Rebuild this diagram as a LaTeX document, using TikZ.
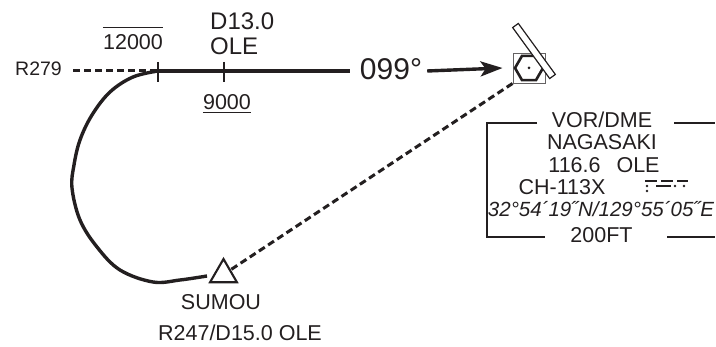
\documentclass[tikz,border=0pt]{standalone}
\usepackage{fontspec}
\setmainfont{Liberation Sans}
\usetikzlibrary{shapes.geometric,arrows.meta}
\definecolor{ink}{RGB}{35,31,32}
\begin{document}
\begin{tikzpicture}[x=1pt,y=-1pt,
  every node/.style={text=ink},
  lbl/.style={inner sep=0pt, anchor=base, font=\fontsize{21.5}{24}\selectfont},
  track/.style={draw=ink, line width=3.4pt},
  thinline/.style={draw=ink, line width=1.1pt},
  dashtrack/.style={draw=ink, line width=3pt, dash pattern=on 7pt off 4pt},
  morse/.style={draw=ink, line width=2.4pt},
]
\useasboundingbox (0,0) rectangle (716,347);

% inbound track and labels
\node[lbl, font=\fontsize{19.5}{21}\selectfont] (r279) at (38.5,76) {R279};
\coordinate (t1) at (158,71);
\coordinate (t2) at (224,71);
\coordinate (lend) at (350,71);
\draw[dashtrack] ([xshift=11pt]r279.east |- t1) -- (t1);
\draw[track] (t1) -- (lend);
\draw[thinline] ([yshift=9pt]t1) -- ([yshift=-11pt]t1);
\draw[thinline] ([yshift=9pt]t2) -- ([yshift=-11pt]t2);

\node[lbl] (alt1) at (133,50) {12000};
\draw[thinline] ([yshift=7pt]alt1.north west) -- ([yshift=7pt]alt1.north east);
\node[lbl, anchor=base west, font=\fontsize{24}{26}\selectfont] (d13) at (210,30) {D13.0};
\node[lbl, anchor=base west, font=\fontsize{24}{26}\selectfont] (ole) at (210,55) {OLE};
\node[lbl] (alt2) at (227,110) {9000};
\draw[thinline] ([yshift=-2.5pt]alt2.south west) -- ([yshift=-2.5pt]alt2.south east);

\node[lbl, font=\fontsize{30}{32}\selectfont] (hdg) at (391,80) {099°};

% VOR/DME symbol
\node[draw=ink!70, line width=0.9pt, minimum width=32pt, minimum height=30pt, inner sep=0pt] (vor) at (529,68) {};
\node[draw=ink, regular polygon, regular polygon sides=6, minimum size=28pt, line width=2.6pt, inner sep=0pt] (hex) at (529,68) {};
\fill[ink] (hex.center) circle (1.5pt);
\node[draw=ink, fill=white, line width=1.2pt, minimum width=63pt, minimum height=7pt, inner sep=0pt, rotate=-54] (dme) at (534,51) {};

\draw[track, -{Stealth[length=22pt,width=15pt,inset=5pt]}] ([xshift=5pt]hdg.east |- t1) -- ([xshift=-10pt]vor.west);

% SUMOU
\node[draw=ink, regular polygon, regular polygon sides=3, minimum size=31pt, line width=2.1pt, inner sep=0pt] (sumou) at (223.5,274.5) {};
\draw[dashtrack] (vor.south west) -- (sumou);
\coordinate (hend) at (207,276);
\draw[track] plot[smooth, tension=0.6] coordinates {(t1) (133,77) (110,92) (92,115) (80,140) (74,165) (72,188) (80,220) (97,247) (120,270) (153,282) (180,280) (hend)};
\node[lbl] (sname) at (221,310) {SUMOU};
\node[lbl] (sdef) at (240,341) {R247/D15.0 OLE};

% info box
\node[lbl] (vordme) at (602,128) {VOR/DME};
\node[lbl] (naga) at (602,150) {NAGASAKI};
\node[lbl] (freq) at (604,173) {116.6\hspace{16pt}OLE};
\node[lbl] (ch) at (562,195) {CH-113X};
\node[lbl, font=\fontsize{20.5}{24}\selectfont\itshape] (pos) at (601,217) {32°54´19˝N/129°55´05˝E};
\node[lbl] (elev) at (601.5,243) {200FT};
\draw[thinline] (537,123) -- (487,123) -- (487,237) -- (545,237);
\draw[thinline] (674,123) -- (715,123);
\draw[thinline] (667,237) -- (715,237);

% morse code
\draw[morse] (645,181) -- (657,181) (661,181) -- (673,181) (677,181) -- (688,181);
\fill[ink] (647,186) circle (1.3pt);
\draw[morse] (656,186) -- (671,186);
\fill[ink] (675,186) circle (1.3pt);
\fill[ink] (684,186) circle (1.3pt);
\fill[ink] (647,191) circle (1.3pt);
\end{tikzpicture}
\end{document}
